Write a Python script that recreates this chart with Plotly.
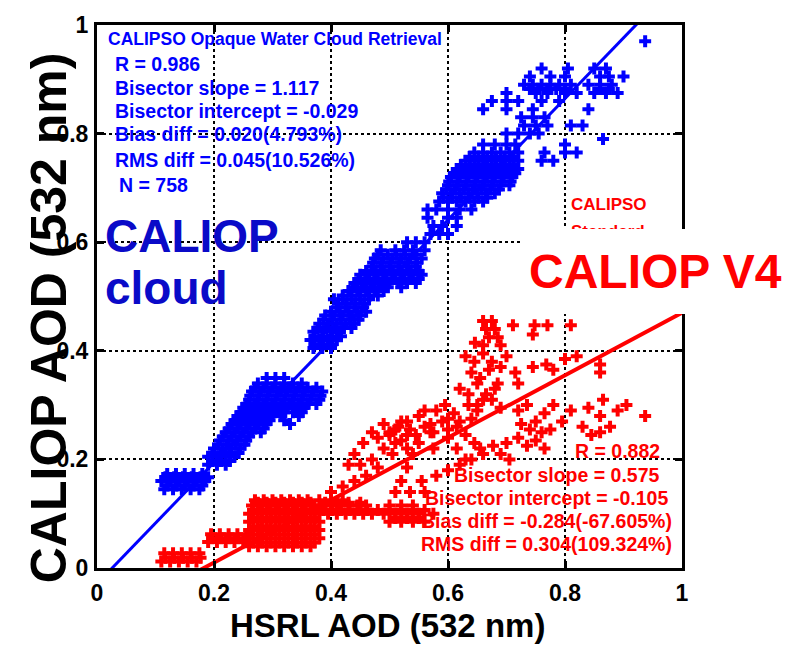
import plotly.graph_objects as go

# ---------------- data ----------------
# Blue: CALIPSO opaque water cloud retrieval vs HSRL. Rows of (AOD_CALIOP, [AOD_HSRL ...])
blue_rows = [
    (0.145, [0.115, 0.13, 0.145, 0.16, 0.175]),
    (0.152, [0.12, 0.135, 0.15, 0.165, 0.18]),
    (0.160, [0.11, 0.125, 0.14, 0.155, 0.17, 0.185]),
    (0.167, [0.117, 0.132, 0.147, 0.162, 0.177, 0.19]),
    (0.173, [0.12, 0.135, 0.15, 0.165, 0.18]),
    (0.190, [0.19, 0.205, 0.22]),
    (0.197, [0.197, 0.212, 0.227]),
    (0.205, [0.19, 0.205, 0.22, 0.235]),
    (0.212, [0.197, 0.212, 0.227, 0.242]),
    (0.220, [0.20, 0.215, 0.23, 0.245]),
    (0.227, [0.207, 0.222, 0.237, 0.252]),
    (0.235, [0.21, 0.225, 0.24, 0.255]),
    (0.242, [0.215, 0.23, 0.245, 0.26]),
    (0.250, [0.22, 0.235, 0.25, 0.265, 0.28]),
    (0.257, [0.225, 0.24, 0.255, 0.27, 0.285]),
    (0.265, [0.23, 0.245, 0.26, 0.275, 0.29, 0.33]),
    (0.272, [0.235, 0.25, 0.265, 0.28, 0.295, 0.32]),
    (0.280, [0.24, 0.255, 0.27, 0.285, 0.30, 0.315, 0.345]),
    (0.287, [0.245, 0.26, 0.275, 0.29, 0.305, 0.32, 0.335, 0.35]),
    (0.295, [0.25, 0.265, 0.28, 0.295, 0.31, 0.325, 0.34, 0.355]),
    (0.302, [0.255, 0.27, 0.285, 0.30, 0.315, 0.33, 0.345, 0.36, 0.375]),
    (0.310, [0.26, 0.275, 0.29, 0.305, 0.32, 0.335, 0.35, 0.365, 0.38]),
    (0.317, [0.262, 0.277, 0.292, 0.307, 0.322, 0.337, 0.352, 0.367, 0.382]),
    (0.325, [0.265, 0.28, 0.295, 0.31, 0.325, 0.34, 0.355, 0.37, 0.385]),
    (0.332, [0.27, 0.285, 0.30, 0.315, 0.33, 0.345, 0.36, 0.375]),
    (0.340, [0.275, 0.29, 0.305, 0.32, 0.335, 0.35]),
    (0.350, [0.29, 0.305, 0.32]),
    (0.405, [0.37, 0.385, 0.40]),
    (0.412, [0.372, 0.387, 0.402]),
    (0.420, [0.365, 0.38, 0.395, 0.41]),
    (0.427, [0.372, 0.387, 0.402, 0.417]),
    (0.435, [0.37, 0.385, 0.40, 0.415]),
    (0.442, [0.377, 0.392, 0.407, 0.422, 0.435]),
    (0.450, [0.38, 0.395, 0.41, 0.425, 0.44]),
    (0.457, [0.387, 0.402, 0.417, 0.432, 0.447]),
    (0.465, [0.39, 0.405, 0.42, 0.435, 0.45]),
    (0.472, [0.40, 0.415, 0.43, 0.445, 0.46]),
    (0.480, [0.41, 0.425, 0.44, 0.455]),
    (0.487, [0.412, 0.427, 0.442, 0.457]),
    (0.495, [0.405, 0.42, 0.435, 0.45, 0.465]),
    (0.502, [0.42, 0.435, 0.45, 0.465, 0.48]),
    (0.510, [0.43, 0.445, 0.46, 0.475, 0.49]),
    (0.517, [0.437, 0.452, 0.467, 0.482, 0.497, 0.52]),
    (0.525, [0.44, 0.455, 0.47, 0.485, 0.50, 0.515, 0.53, 0.545]),
    (0.532, [0.447, 0.462, 0.477, 0.492, 0.507, 0.522, 0.537, 0.55]),
    (0.540, [0.45, 0.465, 0.48, 0.495, 0.51, 0.525, 0.54, 0.555]),
    (0.547, [0.46, 0.475, 0.49, 0.505, 0.52, 0.535, 0.55]),
    (0.555, [0.47, 0.485, 0.50, 0.515, 0.53, 0.545]),
    (0.562, [0.472, 0.487, 0.502, 0.517, 0.532, 0.547]),
    (0.570, [0.475, 0.49, 0.505, 0.52, 0.535, 0.555]),
    (0.577, [0.48, 0.497, 0.512, 0.527, 0.545]),
    (0.585, [0.485, 0.51, 0.525, 0.54, 0.56]),
    (0.600, [0.53, 0.545, 0.56]),
    (0.615, [0.57, 0.585, 0.60]),
    (0.630, [0.575, 0.59, 0.615]),
    (0.645, [0.565, 0.60, 0.615]),
    (0.660, [0.565, 0.58, 0.60, 0.62, 0.64]),
    (0.675, [0.585, 0.60, 0.615, 0.63, 0.645, 0.66]),
    (0.682, [0.592, 0.607, 0.622, 0.637, 0.652, 0.667]),
    (0.690, [0.59, 0.605, 0.62, 0.635, 0.65, 0.665, 0.68]),
    (0.697, [0.597, 0.612, 0.627, 0.642, 0.657, 0.672, 0.687]),
    (0.705, [0.60, 0.615, 0.63, 0.645, 0.66, 0.675, 0.69, 0.705]),
    (0.712, [0.602, 0.617, 0.632, 0.647, 0.662, 0.677, 0.692, 0.707]),
    (0.720, [0.605, 0.62, 0.635, 0.65, 0.665, 0.68, 0.695, 0.71]),
    (0.727, [0.61, 0.625, 0.64, 0.655, 0.67, 0.685, 0.70, 0.715]),
    (0.735, [0.615, 0.63, 0.645, 0.66, 0.675, 0.69, 0.705, 0.72]),
    (0.742, [0.622, 0.637, 0.652, 0.667, 0.682, 0.697, 0.712]),
    (0.750, [0.63, 0.645, 0.66, 0.675, 0.69, 0.705, 0.72, 0.76, 0.78]),
    (0.757, [0.637, 0.652, 0.667, 0.682, 0.697, 0.712]),
    (0.765, [0.645, 0.66, 0.675, 0.69, 0.705, 0.72, 0.765, 0.80, 0.82]),
    (0.780, [0.66, 0.68, 0.70, 0.715, 0.80]),
    (0.790, [0.865]),
    (0.800, [0.70, 0.72, 0.74, 0.755]),
    (0.815, [0.73, 0.75, 0.77, 0.81, 0.83]),
    (0.830, [0.725, 0.745, 0.765]),
    (0.845, [0.66, 0.70, 0.745, 0.84]),
    (0.860, [0.675, 0.70, 0.72, 0.76, 0.79]),
    (0.875, [0.70, 0.75, 0.77, 0.80, 0.82, 0.85, 0.87, 0.89]),
    (0.882, [0.74, 0.755, 0.77, 0.785, 0.80, 0.86, 0.875]),
    (0.890, [0.73, 0.745, 0.76, 0.775, 0.79, 0.81, 0.84, 0.86, 0.88]),
    (0.905, [0.74, 0.775, 0.80, 0.86, 0.875, 0.90]),
    (0.920, [0.76, 0.805, 0.85, 0.87]),
    (0.970, [0.937]),
]

# Red: CALIPSO standard (CALIOP V4) vs HSRL
red_rows = [
    (0.012, [0.11, 0.125, 0.14, 0.155, 0.17]),
    (0.019, [0.117, 0.132, 0.147, 0.162, 0.177]),
    (0.027, [0.115, 0.13, 0.145, 0.16, 0.175]),
    (0.040, [0.26, 0.275, 0.29, 0.305, 0.32, 0.335, 0.35, 0.365]),
    (0.047, [0.267, 0.282, 0.297, 0.312, 0.327, 0.342, 0.357, 0.372]),
    (0.048, [0.19, 0.205, 0.22, 0.235, 0.25]),
    (0.055, [0.197, 0.212, 0.227, 0.242, 0.26, 0.275, 0.29, 0.305, 0.32, 0.335, 0.35,
             0.365, 0.38]),
    (0.062, [0.195, 0.21, 0.225, 0.24, 0.255, 0.267, 0.282, 0.297, 0.312, 0.327, 0.342,
             0.357, 0.372]),
    (0.070, [0.26, 0.275, 0.29, 0.305, 0.32, 0.335, 0.35, 0.365, 0.38]),
    (0.077, [0.267, 0.282, 0.297, 0.312, 0.327, 0.342, 0.357, 0.372]),
    (0.085, [0.26, 0.275, 0.29, 0.305, 0.32, 0.335, 0.35, 0.365, 0.38, 0.50, 0.52, 0.54, 0.56]),
    (0.092, [0.267, 0.282, 0.297, 0.312, 0.327, 0.342, 0.357, 0.372, 0.51, 0.53, 0.55]),
    (0.100, [0.26, 0.275, 0.29, 0.305, 0.32, 0.335, 0.35, 0.365, 0.38, 0.395, 0.41, 0.425,
             0.44, 0.455, 0.47, 0.49, 0.51, 0.53, 0.55, 0.575]),
    (0.107, [0.267, 0.282, 0.297, 0.312, 0.327, 0.342, 0.357, 0.372, 0.387, 0.402, 0.417,
             0.432, 0.447, 0.462, 0.48, 0.50, 0.52, 0.54, 0.56]),
    (0.115, [0.265, 0.28, 0.295, 0.31, 0.325, 0.34, 0.355, 0.37, 0.385, 0.40, 0.415, 0.43,
             0.445, 0.46, 0.50, 0.52, 0.54]),
    (0.120, [0.275, 0.29, 0.305, 0.32, 0.335, 0.35, 0.365, 0.39, 0.41, 0.43, 0.45]),
    (0.125, [0.27, 0.285, 0.30, 0.315, 0.33, 0.345, 0.36, 0.38, 0.40, 0.42]),
    (0.140, [0.40, 0.51, 0.535, 0.56]),
    (0.150, [0.42]),
    (0.160, [0.44, 0.52, 0.555]),
    (0.170, [0.46, 0.58]),
    (0.180, [0.60]),
    (0.185, [0.48, 0.53]),
    (0.190, [0.43, 0.45, 0.62]),
    (0.200, [0.47, 0.63, 0.64, 0.705]),
    (0.210, [0.44, 0.505, 0.54, 0.66, 0.69]),
    (0.220, [0.49, 0.53, 0.575, 0.615, 0.655, 0.765]),
    (0.225, [0.677, 0.735]),
    (0.230, [0.455, 0.51, 0.55, 0.645, 0.70]),
    (0.235, [0.52, 0.75]),
    (0.240, [0.48, 0.60, 0.72]),
    (0.245, [0.50, 0.53, 0.545, 0.63, 0.845]),
    (0.250, [0.47, 0.50, 0.57, 0.575, 0.76, 0.86]),
    (0.255, [0.51, 0.535, 0.60, 0.74, 0.775]),
    (0.260, [0.515, 0.56, 0.615, 0.83, 0.877]),
    (0.265, [0.49, 0.57, 0.725]),
    (0.270, [0.52, 0.53, 0.59, 0.62, 0.75, 0.795]),
    (0.275, [0.60, 0.64]),
    (0.280, [0.55, 0.86, 0.937]),
    (0.285, [0.61, 0.765]),
    (0.290, [0.56, 0.58, 0.65, 0.72, 0.81, 0.89]),
    (0.295, [0.69, 0.84]),
    (0.300, [0.595, 0.635, 0.65, 0.735, 0.78, 0.905]),
    (0.310, [0.66, 0.675, 0.865]),
    (0.320, [0.635, 0.665]),
    (0.330, [0.62, 0.68]),
    (0.340, [0.65, 0.685, 0.72]),
    (0.350, [0.655]),
    (0.360, [0.64, 0.715, 0.86]),
    (0.365, [0.67, 0.78]),
    (0.370, [0.69, 0.745]),
    (0.375, [0.768, 0.86]),
    (0.380, [0.645, 0.675]),
    (0.385, [0.80]),
    (0.390, [0.63, 0.70, 0.82]),
    (0.395, [0.66]),
    (0.410, [0.66, 0.69]),
    (0.415, [0.646]),
    (0.425, [0.67, 0.685]),
    (0.430, [0.745]),
    (0.440, [0.665, 0.68]),
    (0.447, [0.711, 0.748, 0.77, 0.81]),
    (0.455, [0.66, 0.675]),
]

# Regression (bisector) statistics printed on the chart
blue_slope, blue_intercept = 1.117, -0.029
red_slope, red_intercept = 0.575, -0.105
fit_x = [0.0, 1.0]

blue_stats = ["CALIPSO Opaque Water Cloud Retrieval", "R = 0.986", "Bisector slope = 1.117",
              "Bisector intercept = -0.029", "Bias diff = 0.020(4.793%)",
              "RMS diff = 0.045(10.526%)", "N = 758"]
red_stats = ["R = 0.882", "Bisector slope = 0.575", "Bisector intercept = -0.105",
             "Bias diff = -0.284(-67.605%)", "RMS diff = 0.304(109.324%)"]

tick_vals = [0, 0.2, 0.4, 0.6, 0.8, 1.0]
tick_text = ["0", "0.2", "0.4", "0.6", "0.8", "1"]

# ---------------- build ----------------
def expand(rows):
    xs, ys = [], []
    for y, xlist in rows:
        for x in xlist:
            xs.append(x)
            ys.append(y)
    return xs, ys

bx, by = expand(blue_rows)
rx, ry = expand(red_rows)

BLUE = "#0000FF"
RED = "#FF0000"
FONT = "Liberation Sans, Arial, sans-serif"

fig = go.Figure()
fig.add_trace(go.Scatter(x=bx, y=by, mode="markers",
                         marker=dict(symbol="cross", size=10, color=BLUE, line=dict(width=0)),
                         showlegend=False, cliponaxis=True))
fig.add_trace(go.Scatter(x=rx, y=ry, mode="markers",
                         marker=dict(symbol="cross", size=10, color=RED, line=dict(width=0)),
                         showlegend=False, cliponaxis=True))
fig.add_trace(go.Scatter(x=fit_x, y=[blue_slope * x + blue_intercept for x in fit_x],
                         mode="lines", line=dict(color=BLUE, width=3), showlegend=False))
fig.add_trace(go.Scatter(x=fit_x, y=[red_slope * x + red_intercept for x in fit_x],
                         mode="lines", line=dict(color=RED, width=4), showlegend=False))

axis_common = dict(range=[0, 1], tickvals=tick_vals, ticktext=tick_text,
                   showline=True, linecolor="black", linewidth=3, mirror="ticks",
                   ticks="inside", ticklen=7, tickwidth=3, tickcolor="black",
                   showgrid=True, gridcolor="black", griddash="dot", gridwidth=1.5,
                   zeroline=False, fixedrange=True,
                   tickfont=dict(family=FONT, size=23, color="black", weight="bold"))
fig.update_xaxes(**axis_common, ticklabelstandoff=2)
fig.update_yaxes(**axis_common, ticklabelstandoff=1)

ann = []
# blue stats block (left aligned)
blue_pos = [(0.015, 0.974, 17.5), (0.027, 0.928, 19.5), (0.027, 0.884, 19.5),
            (0.027, 0.842, 19.5), (0.027, 0.800, 19.5), (0.027, 0.752, 19.5),
            (0.034, 0.706, 19.5)]
for txt, (x, y, s) in zip(blue_stats, blue_pos):
    ann.append(dict(text=txt, x=x, y=y, xref="paper", yref="paper", xanchor="left",
                    yanchor="middle", showarrow=False,
                    font=dict(family=FONT, size=s, color=BLUE, weight="bold")))
# red stats block (right aligned)
red_pos = [(0.966, 0.216), (0.966, 0.172), (0.979, 0.129), (0.986, 0.087), (0.986, 0.045)]
for txt, (x, y) in zip(red_stats, red_pos):
    ann.append(dict(text=txt, x=x, y=y, xref="paper", yref="paper", xanchor="right",
                    yanchor="middle", showarrow=False,
                    font=dict(family=FONT, size=19.5, color=RED, weight="bold")))
# big labels
ann.append(dict(text="CALIOP", x=0.0103, y=0.612, xref="paper", yref="paper", xanchor="left",
                yanchor="middle", showarrow=False,
                font=dict(family=FONT, size=46, color="#0A0AC8", weight="bold")))
ann.append(dict(text="cloud", x=0.0103, y=0.515, xref="paper", yref="paper", xanchor="left",
                yanchor="middle", showarrow=False,
                font=dict(family=FONT, size=46, color="#0A0AC8", weight="bold")))
ann.append(dict(text="CALIPSO", x=0.8068, y=0.6695, xref="paper", yref="paper",
                xanchor="left", yanchor="middle", showarrow=False,
                font=dict(family=FONT, size=17, color=RED, weight="bold")))
ann.append(dict(text="Standard", x=0.8068, y=0.6195, xref="paper", yref="paper",
                xanchor="left", yanchor="middle", showarrow=False,
                font=dict(family=FONT, size=17, color=RED, weight="bold")))
# white label box that hides the right part of the frame
ann.append(dict(text=" ", x=0.9615, y=0.5464, xref="paper", yref="paper",
                xanchor="center", yanchor="middle", showarrow=False,
                width=279, height=85, bgcolor="white", borderpad=0, borderwidth=0,
                font=dict(family=FONT, size=10, color="white")))
ann.append(dict(text="CALIOP V4", x=0.954, y=0.5455, xref="paper", yref="paper",
                xanchor="center", yanchor="middle", showarrow=False,
                font=dict(family=FONT, size=48, color=RED, weight="bold")))
# axis titles
ann.append(dict(text="HSRL AOD (532 nm)", x=0.496, y=-0.105, xref="paper", yref="paper",
                xanchor="center", yanchor="middle", showarrow=False,
                font=dict(family=FONT, size=33, color="black", weight="bold")))
ann.append(dict(text="CALIOP AOD (532 nm)", x=-0.082, y=0.46, xref="paper", yref="paper",
                xanchor="center", yanchor="middle", showarrow=False, textangle=-90,
                font=dict(family=FONT, size=50, color="black", weight="bold")))

fig.update_layout(width=799, height=648, margin=dict(l=97, r=117, t=18, b=80),
                  paper_bgcolor="white", plot_bgcolor="white", annotations=ann,
                  showlegend=False)

fig.write_html("out.html")
